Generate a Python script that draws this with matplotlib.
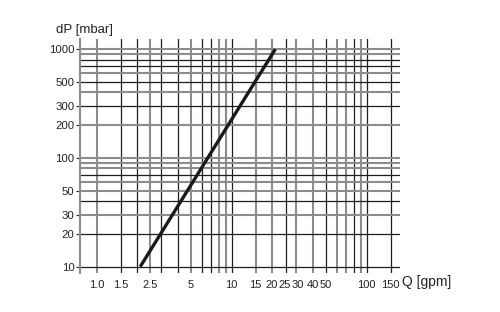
import matplotlib
matplotlib.use("Agg")
import matplotlib.pyplot as plt
import matplotlib.transforms as mtransforms

plt.rcParams["font.family"] = ["Liberation Sans Narrow", "Liberation Sans", "DejaVu Sans"]

# Curve data (dP grows with Q squared)
flow = [2.1, 3.0, 5.0, 10.0, 21.0]
pressure = [10, 20.4, 56.7, 227, 1000]

# Tick labels
x_ticks = [1.0, 1.5, 2.5, 5, 10, 15, 20, 25, 30, 40, 50, 100, 150]
x_labels = ["1.0", "1.5", "2.5", "5", "10", "15", "20", "25", "30", "40", "50", "100", "150"]
y_ticks = [10, 20, 30, 50, 100, 200, 300, 500, 1000]

# Grid lines, grey (wide) or black (thin)
x_grid_grey = [1.0, 2.5, 5, 8, 9, 15, 20, 30, 40, 60, 70, 90]
x_grid_black = [1.5, 2, 3, 4, 6, 7, 10, 25, 50, 80, 100, 150]
y_grid_grey = [30, 50, 60, 80, 90, 100, 200, 400, 600, 900, 1000]
y_grid_black = [10, 20, 40, 70, 300, 500, 700, 800]

GREY = "#8c8c8c"
BLACK = "#1e1e1e"

fig = plt.figure(figsize=(5, 3.12), dpi=100)
ax = fig.add_axes([0.16, 0.126, 0.64, 0.748])
ax.set_xscale("log")
ax.set_yscale("log")
ax.set_xlim(0.752, 176)
ax.set_ylim(8.8, 1233)

for v in x_grid_grey:
    ax.axvline(v, color=GREY, lw=1.5, zorder=1)
for v in x_grid_black:
    ax.axvline(v, color=BLACK, lw=0.9, zorder=1)
for v in y_grid_grey:
    ax.axhline(v, color=GREY, lw=1.5, zorder=1)
for v in y_grid_black:
    ax.axhline(v, color=BLACK, lw=0.9, zorder=1)

ax.plot(flow, pressure, color="#1a1a1a", lw=2.4, solid_capstyle="butt", zorder=3)

for s in ["top", "right", "bottom"]:
    ax.spines[s].set_visible(False)
ax.spines["left"].set_color(GREY)
ax.spines["left"].set_linewidth(1.5)

ax.set_xticks(x_ticks)
ax.set_xticklabels(x_labels)
ax.xaxis.set_minor_locator(matplotlib.ticker.NullLocator())
ax.set_yticks(y_ticks)
ax.set_yticklabels([str(v) for v in y_ticks])
ax.yaxis.set_minor_locator(matplotlib.ticker.NullLocator())
ax.tick_params(axis="x", length=0, pad=5, labelsize=8, colors="#222222")
ax.tick_params(axis="y", length=3, width=0.8, pad=1, labelsize=8.2, colors="#222222")

# the 20/25/30 labels sit very close, nudge them apart a little
nudge = {"20": -1.0, "25": -1.0, "30": 1.5}
for lab in ax.get_xticklabels():
    dx = nudge.get(lab.get_text(), 0)
    if dx:
        lab.set_transform(lab.get_transform() + mtransforms.ScaledTranslation(dx / 100, 0, fig.dpi_scale_trans))

fig.text(0.112, 0.885, "dP [mbar]", fontsize=9.5, color="#222222", ha="left", va="bottom")
fig.text(0.803, 0.097, "Q [gpm]", fontsize=10, color="#222222", ha="left", va="center")

fig.savefig("out.png", dpi=100)
